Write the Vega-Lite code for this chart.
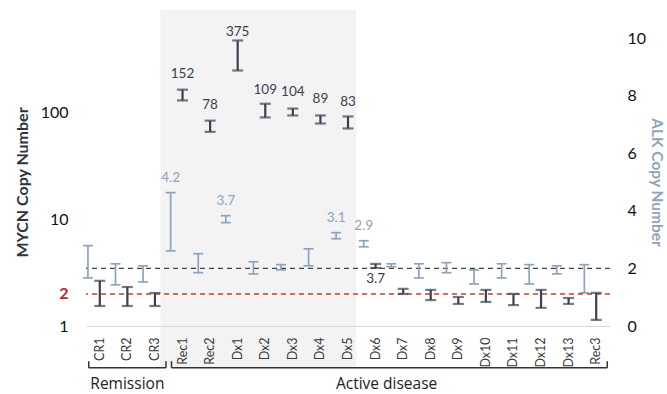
{
  "$schema": "https://vega.github.io/schema/vega-lite/v6.json",
  "width": 524,
  "height": 288,
  "autosize": {"type": "none"},
  "padding": {"left": 86, "top": 38, "right": 57, "bottom": 68},
  "background": "white",
  "config": {
    "view": {"stroke": null},
    "font": "Lato",
    "axisX": {"ticks": false, "domainColor": "#d9d9d9", "domainWidth": 1.2, "labelAngle": -90, "labelPadding": 11, "labelFontSize": 12.5, "labelColor": "#3a3a3a", "grid": false, "title": null}
  },
  "data": {
    "values": [
      {"sample": "CR1", "mycn_lo": 1.54, "mycn_hi": 2.65, "mycn_label": null, "alk_lo": 1.67, "alk_hi": 2.79, "alk_label": null},
      {"sample": "CR2", "mycn_lo": 1.54, "mycn_hi": 2.32, "mycn_label": null, "alk_lo": 1.43, "alk_hi": 2.16, "alk_label": null},
      {"sample": "CR3", "mycn_lo": 1.54, "mycn_hi": 2.04, "mycn_label": null, "alk_lo": 1.53, "alk_hi": 2.09, "alk_label": null},
      {"sample": "Rec1", "mycn_lo": 130, "mycn_hi": 164, "mycn_label": 152, "alk_lo": 2.61, "alk_hi": 4.63, "alk_label": 4.2},
      {"sample": "Rec2", "mycn_lo": 66, "mycn_hi": 84, "mycn_label": 78, "alk_lo": 1.85, "alk_hi": 2.51, "alk_label": null},
      {"sample": "Dx1", "mycn_lo": 248, "mycn_hi": 474, "mycn_label": 375, "alk_lo": 3.59, "alk_hi": 3.83, "alk_label": 3.7},
      {"sample": "Dx2", "mycn_lo": 90, "mycn_hi": 121, "mycn_label": 109, "alk_lo": 1.81, "alk_hi": 2.23, "alk_label": null},
      {"sample": "Dx3", "mycn_lo": 94, "mycn_hi": 109, "mycn_label": 104, "alk_lo": 1.95, "alk_hi": 2.13, "alk_label": null},
      {"sample": "Dx4", "mycn_lo": 79, "mycn_hi": 94, "mycn_label": 89, "alk_lo": 2.09, "alk_hi": 2.68, "alk_label": null},
      {"sample": "Dx5", "mycn_lo": 71, "mycn_hi": 92, "mycn_label": 83, "alk_lo": 3.03, "alk_hi": 3.24, "alk_label": 3.1},
      {"sample": "Dx6", "mycn_lo": 3.5, "mycn_hi": 3.82, "mycn_label": 3.7, "alk_lo": 2.75, "alk_hi": 2.96, "alk_label": 2.9},
      {"sample": "Dx7", "mycn_lo": 2.0, "mycn_hi": 2.23, "mycn_label": null, "alk_lo": 2.06, "alk_hi": 2.16, "alk_label": null},
      {"sample": "Dx8", "mycn_lo": 1.75, "mycn_hi": 2.18, "mycn_label": null, "alk_lo": 1.67, "alk_hi": 2.16, "alk_label": null},
      {"sample": "Dx9", "mycn_lo": 1.61, "mycn_hi": 1.87, "mycn_label": null, "alk_lo": 1.85, "alk_hi": 2.2, "alk_label": null},
      {"sample": "Dx10", "mycn_lo": 1.68, "mycn_hi": 2.18, "mycn_label": null, "alk_lo": 1.46, "alk_hi": 1.95, "alk_label": null},
      {"sample": "Dx11", "mycn_lo": 1.57, "mycn_hi": 2.0, "mycn_label": null, "alk_lo": 1.67, "alk_hi": 2.16, "alk_label": null},
      {"sample": "Dx12", "mycn_lo": 1.48, "mycn_hi": 2.18, "mycn_label": null, "alk_lo": 1.46, "alk_hi": 2.13, "alk_label": null},
      {"sample": "Dx13", "mycn_lo": 1.61, "mycn_hi": 1.83, "mycn_label": null, "alk_lo": 1.81, "alk_hi": 2.09, "alk_label": null},
      {"sample": "Rec3", "mycn_lo": 1.14, "mycn_hi": 2.04, "mycn_label": null, "alk_lo": 1.15, "alk_hi": 2.13, "alk_label": null}
    ]
  },
  "layer": [
    {
      "layer": [
        {
          "data": {"values": [{"from": "Rec1", "to": "Dx5"}]},
          "mark": {"type": "rect", "color": "#f3f3f3"},
          "encoding": {
            "x": {"field": "from", "type": "nominal", "bandPosition": -0.3, "scale": {"type": "band", "domain": ["CR1","CR2","CR3","Rec1","Rec2","Dx1","Dx2","Dx3","Dx4","Dx5","Dx6","Dx7","Dx8","Dx9","Dx10","Dx11","Dx12","Dx13","Rec3"], "paddingInner": 0, "paddingOuter": 0}},
            "x2": {"field": "to", "bandPosition": 0.8},
            "y": {"datum": 10.97, "type": "quantitative", "scale": {"domain": [0, 10], "nice": false}, "axis": {"orient": "right", "values": [0, 2, 4, 6, 8, 10], "ticks": false, "domain": false, "grid": false, "labelFontSize": 16, "labelColor": "#111", "labelPadding": 17, "title": "ALK Copy Number", "titleColor": "#8fa3bb", "titleFontSize": 15.5, "titleFontWeight": "bold", "titlePadding": 3}},
            "y2": {"datum": -1.45}
          }
        },
        {
          "data": {"values": [{"threshold": 2}]},
          "mark": {"type": "rule", "color": "#444", "strokeDash": [5, 4], "strokeWidth": 1.2},
          "encoding": {"y": {"field": "threshold", "type": "quantitative", "scale": {"domain": [0, 10], "nice": false}}}
        },
        {
          "mark": {"type": "rule", "color": "#8fa3bb", "strokeWidth": 1.7},
          "encoding": {
            "x": {"field": "sample", "type": "nominal", "bandPosition": 0.07, "scale": {"type": "band", "domain": ["CR1","CR2","CR3","Rec1","Rec2","Dx1","Dx2","Dx3","Dx4","Dx5","Dx6","Dx7","Dx8","Dx9","Dx10","Dx11","Dx12","Dx13","Rec3"], "paddingInner": 0, "paddingOuter": 0}},
            "y": {"field": "alk_lo", "type": "quantitative", "scale": {"domain": [0, 10], "nice": false}},
            "y2": {"field": "alk_hi"}
          }
        },
        {
          "mark": {"type": "rule", "color": "#8fa3bb", "strokeWidth": 1.7},
          "encoding": {
            "x": {"field": "sample", "type": "nominal", "bandPosition": -0.11, "scale": {"type": "band", "domain": ["CR1","CR2","CR3","Rec1","Rec2","Dx1","Dx2","Dx3","Dx4","Dx5","Dx6","Dx7","Dx8","Dx9","Dx10","Dx11","Dx12","Dx13","Rec3"], "paddingInner": 0, "paddingOuter": 0}},
            "x2": {"field": "sample", "bandPosition": 0.25},
            "y": {"field": "alk_lo", "type": "quantitative", "scale": {"domain": [0, 10], "nice": false}}
          }
        },
        {
          "mark": {"type": "rule", "color": "#8fa3bb", "strokeWidth": 1.7},
          "encoding": {
            "x": {"field": "sample", "type": "nominal", "bandPosition": -0.11, "scale": {"type": "band", "domain": ["CR1","CR2","CR3","Rec1","Rec2","Dx1","Dx2","Dx3","Dx4","Dx5","Dx6","Dx7","Dx8","Dx9","Dx10","Dx11","Dx12","Dx13","Rec3"], "paddingInner": 0, "paddingOuter": 0}},
            "x2": {"field": "sample", "bandPosition": 0.25},
            "y": {"field": "alk_hi", "type": "quantitative", "scale": {"domain": [0, 10], "nice": false}}
          }
        },
        {
          "transform": [{"filter": "datum.alk_label != null"}],
          "mark": {"type": "text", "color": "#8fa3bb", "fontSize": 13.5, "baseline": "bottom", "dy": -8},
          "encoding": {
            "x": {"field": "sample", "type": "nominal", "bandPosition": 0.07, "scale": {"type": "band", "domain": ["CR1","CR2","CR3","Rec1","Rec2","Dx1","Dx2","Dx3","Dx4","Dx5","Dx6","Dx7","Dx8","Dx9","Dx10","Dx11","Dx12","Dx13","Rec3"], "paddingInner": 0, "paddingOuter": 0}},
            "y": {"field": "alk_hi", "type": "quantitative", "scale": {"domain": [0, 10], "nice": false}},
            "text": {"field": "alk_label", "type": "quantitative", "format": ".1f"}
          }
        },
        {
          "data": {"values": [{"group": "Remission", "from": "CR1", "to": "CR3"}, {"group": "Active disease", "from": "Rec1", "to": "Rec3"}]},
          "mark": {"type": "rule", "color": "#333", "strokeWidth": 1.5},
          "encoding": {
            "x": {"field": "from", "type": "nominal", "bandPosition": 0.1, "scale": {"type": "band", "domain": ["CR1","CR2","CR3","Rec1","Rec2","Dx1","Dx2","Dx3","Dx4","Dx5","Dx6","Dx7","Dx8","Dx9","Dx10","Dx11","Dx12","Dx13","Rec3"], "paddingInner": 0, "paddingOuter": 0}},
            "x2": {"field": "to", "bandPosition": 0.9},
            "y": {"datum": -1.45, "type": "quantitative", "scale": {"domain": [0, 10], "nice": false}}
          }
        },
        {
          "data": {"values": [{"group": "Remission", "from": "CR1", "to": "CR3"}, {"group": "Active disease", "from": "Rec1", "to": "Rec3"}]},
          "mark": {"type": "rule", "color": "#333", "strokeWidth": 1.5},
          "encoding": {
            "x": {"field": "from", "type": "nominal", "bandPosition": 0.1, "scale": {"type": "band", "domain": ["CR1","CR2","CR3","Rec1","Rec2","Dx1","Dx2","Dx3","Dx4","Dx5","Dx6","Dx7","Dx8","Dx9","Dx10","Dx11","Dx12","Dx13","Rec3"], "paddingInner": 0, "paddingOuter": 0}},
            "y": {"datum": -1.45, "type": "quantitative", "scale": {"domain": [0, 10], "nice": false}},
            "y2": {"datum": -1.22}
          }
        },
        {
          "data": {"values": [{"group": "Remission", "from": "CR1", "to": "CR3"}, {"group": "Active disease", "from": "Rec1", "to": "Rec3"}]},
          "mark": {"type": "rule", "color": "#333", "strokeWidth": 1.5},
          "encoding": {
            "x": {"field": "to", "type": "nominal", "bandPosition": 0.9, "scale": {"type": "band", "domain": ["CR1","CR2","CR3","Rec1","Rec2","Dx1","Dx2","Dx3","Dx4","Dx5","Dx6","Dx7","Dx8","Dx9","Dx10","Dx11","Dx12","Dx13","Rec3"], "paddingInner": 0, "paddingOuter": 0}},
            "y": {"datum": -1.45, "type": "quantitative", "scale": {"domain": [0, 10], "nice": false}},
            "y2": {"datum": -1.22}
          }
        },
        {
          "data": {"values": [{"group": "Remission", "mid": "CR2"}]},
          "mark": {"type": "text", "font": "Open Sans", "fontSize": 15.5, "fontWeight": "normal", "color": "#222", "baseline": "middle"},
          "encoding": {
            "x": {"field": "mid", "type": "nominal", "scale": {"type": "band", "domain": ["CR1","CR2","CR3","Rec1","Rec2","Dx1","Dx2","Dx3","Dx4","Dx5","Dx6","Dx7","Dx8","Dx9","Dx10","Dx11","Dx12","Dx13","Rec3"], "paddingInner": 0, "paddingOuter": 0}},
            "y": {"datum": -2.0, "type": "quantitative", "scale": {"domain": [0, 10], "nice": false}},
            "text": {"field": "group"}
          }
        },
        {
          "data": {"values": [{"group": "Active disease", "mid": "Dx6"}]},
          "mark": {"type": "text", "font": "Open Sans", "fontSize": 15.5, "fontWeight": "normal", "color": "#222", "baseline": "middle"},
          "encoding": {
            "x": {"field": "mid", "type": "nominal", "bandPosition": 0.9, "scale": {"type": "band", "domain": ["CR1","CR2","CR3","Rec1","Rec2","Dx1","Dx2","Dx3","Dx4","Dx5","Dx6","Dx7","Dx8","Dx9","Dx10","Dx11","Dx12","Dx13","Rec3"], "paddingInner": 0, "paddingOuter": 0}},
            "y": {"datum": -2.0, "type": "quantitative", "scale": {"domain": [0, 10], "nice": false}},
            "text": {"field": "group"}
          }
        }
      ]
    },
    {
      "layer": [
        {
          "data": {"values": [{"threshold": 2}]},
          "mark": {"type": "rule", "color": "#cc3b35", "strokeDash": [5, 4], "strokeWidth": 1.5},
          "encoding": {"y": {"field": "threshold", "type": "quantitative", "scale": {"type": "log", "domain": [1, 500], "nice": false}, "axis": {"orient": "left", "values": [1, 2, 10, 100], "format": "d", "ticks": false, "domain": false, "grid": false, "labelFontSize": 16, "labelColor": {"expr": "datum.value == 2 ? '#b8282b' : '#111'"}, "labelFontWeight": {"expr": "datum.value == 2 ? 'bold' : 'normal'"}, "labelPadding": 18, "title": "MYCN Copy Number", "titleColor": "#2e3440", "titleFontSize": 16, "titleFontWeight": "bold", "titlePadding": 10}}}
        },
        {
          "mark": {"type": "rule", "color": "#3a4150", "strokeWidth": 2.2},
          "encoding": {
            "x": {"field": "sample", "type": "nominal", "scale": {"type": "band", "domain": ["CR1","CR2","CR3","Rec1","Rec2","Dx1","Dx2","Dx3","Dx4","Dx5","Dx6","Dx7","Dx8","Dx9","Dx10","Dx11","Dx12","Dx13","Rec3"], "paddingInner": 0, "paddingOuter": 0}},
            "y": {"field": "mycn_lo", "type": "quantitative", "scale": {"type": "log", "domain": [1, 500], "nice": false}},
            "y2": {"field": "mycn_hi"}
          }
        },
        {
          "mark": {"type": "tick", "color": "#3a4150", "size": 11, "thickness": 2.2},
          "encoding": {
            "x": {"field": "sample", "type": "nominal", "scale": {"type": "band", "domain": ["CR1","CR2","CR3","Rec1","Rec2","Dx1","Dx2","Dx3","Dx4","Dx5","Dx6","Dx7","Dx8","Dx9","Dx10","Dx11","Dx12","Dx13","Rec3"], "paddingInner": 0, "paddingOuter": 0}},
            "y": {"field": "mycn_lo", "type": "quantitative", "scale": {"type": "log", "domain": [1, 500], "nice": false}}
          }
        },
        {
          "mark": {"type": "tick", "color": "#3a4150", "size": 11, "thickness": 2.2},
          "encoding": {
            "x": {"field": "sample", "type": "nominal", "scale": {"type": "band", "domain": ["CR1","CR2","CR3","Rec1","Rec2","Dx1","Dx2","Dx3","Dx4","Dx5","Dx6","Dx7","Dx8","Dx9","Dx10","Dx11","Dx12","Dx13","Rec3"], "paddingInner": 0, "paddingOuter": 0}},
            "y": {"field": "mycn_hi", "type": "quantitative", "scale": {"type": "log", "domain": [1, 500], "nice": false}}
          }
        },
        {
          "transform": [{"filter": "datum.mycn_label != null && datum.sample != 'Dx6'"}],
          "mark": {"type": "text", "color": "#3a4150", "fontSize": 13.5, "baseline": "bottom", "dy": -12},
          "encoding": {
            "x": {"field": "sample", "type": "nominal", "scale": {"type": "band", "domain": ["CR1","CR2","CR3","Rec1","Rec2","Dx1","Dx2","Dx3","Dx4","Dx5","Dx6","Dx7","Dx8","Dx9","Dx10","Dx11","Dx12","Dx13","Rec3"], "paddingInner": 0, "paddingOuter": 0}},
            "y": {"field": "mycn_label", "type": "quantitative", "scale": {"type": "log", "domain": [1, 500], "nice": false}},
            "text": {"field": "mycn_label", "type": "quantitative"}
          }
        },
        {
          "transform": [{"filter": "datum.sample == 'Dx6'"}],
          "mark": {"type": "text", "color": "#3a4150", "fontSize": 13.5, "baseline": "top", "dy": 4},
          "encoding": {
            "x": {"field": "sample", "type": "nominal", "scale": {"type": "band", "domain": ["CR1","CR2","CR3","Rec1","Rec2","Dx1","Dx2","Dx3","Dx4","Dx5","Dx6","Dx7","Dx8","Dx9","Dx10","Dx11","Dx12","Dx13","Rec3"], "paddingInner": 0, "paddingOuter": 0}},
            "y": {"field": "mycn_lo", "type": "quantitative", "scale": {"type": "log", "domain": [1, 500], "nice": false}},
            "text": {"field": "mycn_label", "type": "quantitative", "format": ".1f"}
          }
        }
      ]
    }
  ],
  "resolve": {"scale": {"y": "independent"}, "axis": {"y": "independent"}}
}
